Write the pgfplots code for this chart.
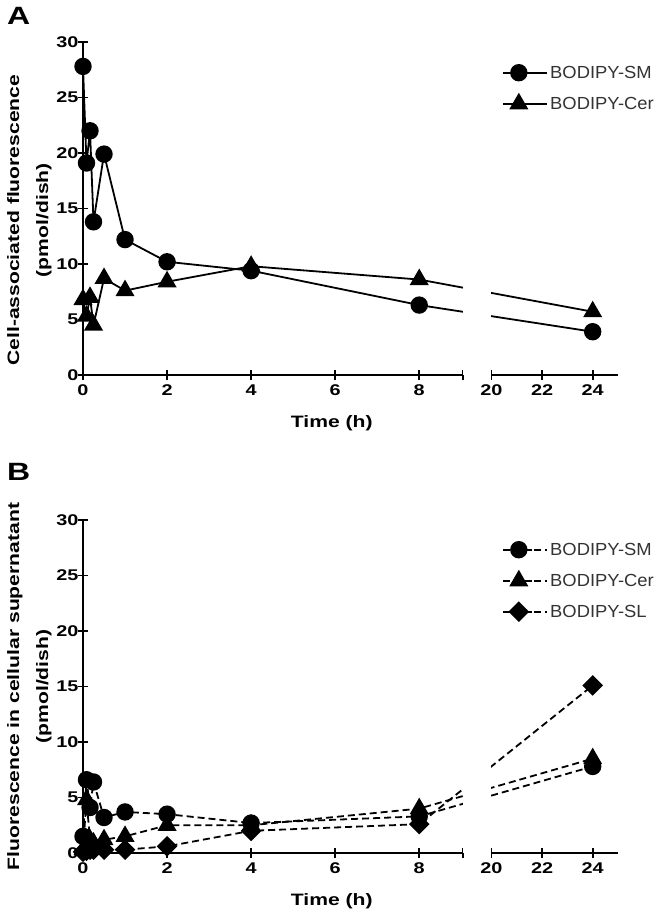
\documentclass[border=0pt]{standalone}
\usepackage{fontspec}
\setmainfont{Liberation Sans}
\newfontfamily\widefont[FakeStretch=1.28]{Liberation Sans}
\newfontfamily\legfont[FakeStretch=1.05]{Liberation Sans}
\usepackage{pgfplots}
\usepackage{pgfplotstable}
\pgfplotsset{compat=1.18}

\pgfplotstableread{
t sm cer
0 27.8 6.8
0.083 19.1 5.3
0.167 22.0 7.0
0.25 13.8 4.5
0.5 19.9 8.7
1 12.2 7.6
2 10.2 8.4
4 9.4 9.8
8 6.3 8.6
24 3.9 5.7
}\tableA

\pgfplotstableread{
t sm cer sl
0 1.5 0.3 0.1
0.083 6.6 4.8 0.2
0.167 4.1 1.2 0.3
0.25 6.4 0.9 0.3
0.5 3.2 1.2 0.3
1 3.7 1.5 0.3
2 3.5 2.5 0.6
4 2.7 2.5 2.0
8 3.3 4.0 2.6
24 7.8 8.5 15.1
}\tableB

\pgfplotsset{
  brk/.style={
    scale only axis, width=535pt, height=333pt,
    xmin=0, xmax=25, ymin=0, ymax=30,
    x coord trafo/.code={\pgfmathparse{##1<14 ? ##1 : 9.717+(##1-20)*0.6024}},
    x coord inv trafo/.code={\pgfmathparse{##1<11 ? ##1 : 20+(##1-9.717)/0.6024}},
    axis lines=left,
    axis line style={line width=1.8pt,-},
    x axis line style={draw=none},
    xtick={0,2,4,6,8,20,22,24},
    xticklabels={0,2,4,6,8,20,22,24},
    extra x ticks={9.05},
    extra x tick labels={},
    ytick={0,5,10,15,20,25,30},
    tick align=center,
    major tick length=10pt,
    tick style={line width=1.8pt,black},
    ticklabel style={font=\widefont\bfseries\fontsize{15.5}{17}\selectfont},
    /pgf/number format/assume math mode=true,
    xticklabel style={yshift=-1pt},
    yticklabel style={xshift=4pt},
    clip=false,
    ylabel style={font=\widefont\bfseries\fontsize{16.5}{29}\selectfont, align=center, yshift=-2pt},
    xlabel style={font=\widefont\bfseries\fontsize{16.5}{18}\selectfont, at={(axis description cs:0.465,0)}, anchor=north, yshift=-37pt},
    xlabel={Time (h)},
    legend style={draw=none, fill=none, anchor=north west,
      font=\legfont\fontsize{17.5}{20}\selectfont\color{black!80},
      row sep=13pt, column sep=0pt},
    legend cell align=left,
    legend image code/.code={
      \draw[mark repeat=2,mark phase=2,##1] plot coordinates {(0pt,0pt) (15.5pt,0pt) (31pt,0pt)};
      \path (31pt,0pt) -- (44pt,0pt);
    },
  },
  smline/.style={black, line width=1.8pt, mark=*, mark size=7.8pt, mark options={solid}},
  cerline/.style={black, line width=1.8pt, mark=triangle*, mark size=9.2pt, mark options={solid}},
  slline/.style={black, line width=1.8pt, mark=square*, mark size=6.4pt, mark options={solid, rotate=45}},
}

\begin{document}
\begin{tikzpicture}
\useasboundingbox (0pt,0pt) rectangle (659pt,-912pt);

\node[anchor=north west, inner sep=0pt, font=\widefont\bfseries\fontsize{25}{25}\selectfont] at (7pt,-7pt) {A};
\node[anchor=north west, inner sep=0pt, font=\widefont\bfseries\fontsize{25}{25}\selectfont] at (7pt,-463pt) {B};

\begin{axis}[brk, at={(83pt,-375pt)}, anchor=south west,
  ylabel={Cell-associated fluorescence\\(pmol/dish)},
  ylabel style={at={(ticklabel cs:0.465)}},
  legend style={at={(axis description cs:0.778,0.941)}}]
\addplot[smline] table[x=t,y=sm]{\tableA};
\addlegendentry{BODIPY-SM}
\addplot[cerline] table[x=t,y=cer]{\tableA};
\addlegendentry{BODIPY-Cer}
\fill[white] (axis cs:9.05,0) rectangle (axis cs:20,30);
\draw[line width=1.8pt] (axis cs:0,0) -- (axis cs:9.05,0);
\draw[line width=1.8pt] (axis cs:20,0) -- (axis cs:25,0);
\end{axis}

\begin{axis}[brk, at={(83pt,-853pt)}, anchor=south west,
  ylabel={Fluorescence in cellular supernatant\\(pmol/dish)},
  legend style={at={(axis description cs:0.778,0.944)}}]
\addplot[smline, dash pattern=on 7pt off 4pt] table[x=t,y=sm]{\tableB};
\addlegendentry{BODIPY-SM}
\addplot[cerline, dash pattern=on 7pt off 4pt] table[x=t,y=cer]{\tableB};
\addlegendentry{BODIPY-Cer}
\addplot[slline, dash pattern=on 7pt off 4pt] table[x=t,y=sl]{\tableB};
\addlegendentry{BODIPY-SL}
\fill[white] (axis cs:9.05,0) rectangle (axis cs:20,30);
\draw[line width=1.8pt] (axis cs:0,0) -- (axis cs:9.05,0);
\draw[line width=1.8pt] (axis cs:20,0) -- (axis cs:25,0);
\end{axis}
\end{tikzpicture}
\end{document}
